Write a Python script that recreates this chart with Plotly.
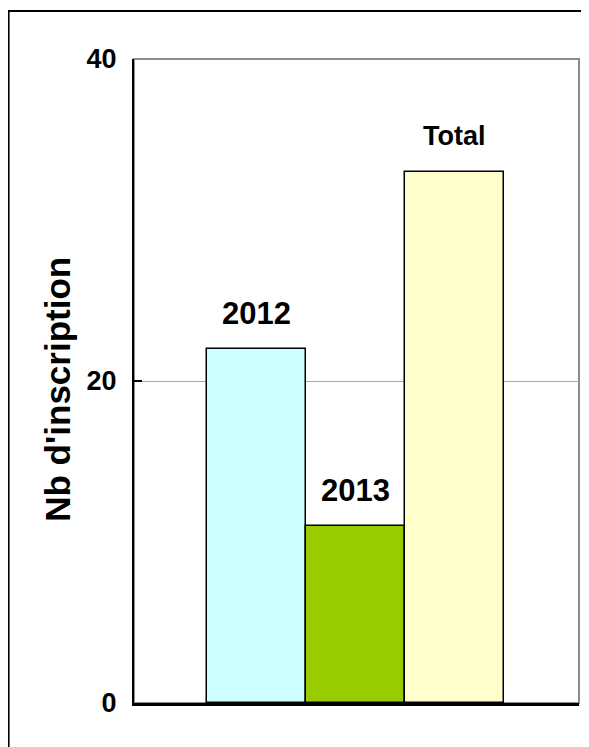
import plotly.graph_objects as go

categories = ["2012", "2013", "Total"]
values = [22, 11, 33]
colors = ["#CCFFFF", "#99CC00", "#FFFFCC"]
y_title = "Nb d'inscription"
y_ticks = [0, 20, 40]

FONT = "Arial, 'Liberation Sans', sans-serif"

fig = go.Figure()
fig.add_trace(go.Bar(
    x=categories, y=values,
    marker=dict(color=colors, line=dict(color="black", width=1.5)),
    width=1.0, showlegend=False, hoverinfo="skip",
))

for i, (c, v) in enumerate(zip(categories, values)):
    fig.add_annotation(x=i, y=v, xref="x", yref="y", text="<b>%s</b>" % c,
                       showarrow=False, yanchor="bottom",
                       yshift=16 if c != "Total" else 19,
                       font=dict(family=FONT, size=31 if c != "Total" else 27, color="black"))

# y-axis title
fig.add_annotation(x=-0.1735, y=0.5, xref="paper", yref="paper", yshift=-8,
                   text="<b>%s</b>" % y_title, textangle=-90, showarrow=False,
                   xanchor="center", yanchor="middle",
                   font=dict(family=FONT, size=35, color="black"))

# plot-area border (gray top/right)
fig.add_shape(type="rect", xref="paper", yref="paper", x0=0, x1=1, y0=0, y1=1,
              line=dict(color="#8c8c8c", width=2), layer="below")
# outer frame
fig.add_shape(type="rect", xref="paper", yref="paper",
              x0=-0.2818, x1=1.2, y0=-0.2, y1=1.0745,
              line=dict(color="black", width=2))

fig.update_layout(
    width=581, height=739,
    margin=dict(l=126, r=10, t=51, b=44),
    paper_bgcolor="white", plot_bgcolor="white",
    bargap=0,
    font=dict(family=FONT, color="black"),
    xaxis=dict(type="category", range=[-1.24, 3.255], showticklabels=False, ticks="",
               showgrid=False, zeroline=False,
               showline=True, linecolor="black", linewidth=2.5),
    yaxis=dict(range=[0, 40], tickvals=y_ticks, ticktext=["<b>%d</b>" % t for t in y_ticks],
               tickfont=dict(family=FONT, size=27, color="black"),
               ticks="inside", ticklen=8, tickwidth=2, tickcolor="black",
               ticklabelstandoff=10,
               showgrid=True, gridcolor="#a8a8a8", gridwidth=1,
               zeroline=False, showline=True, linecolor="black", linewidth=2),
)

fig.write_html("out.html")
